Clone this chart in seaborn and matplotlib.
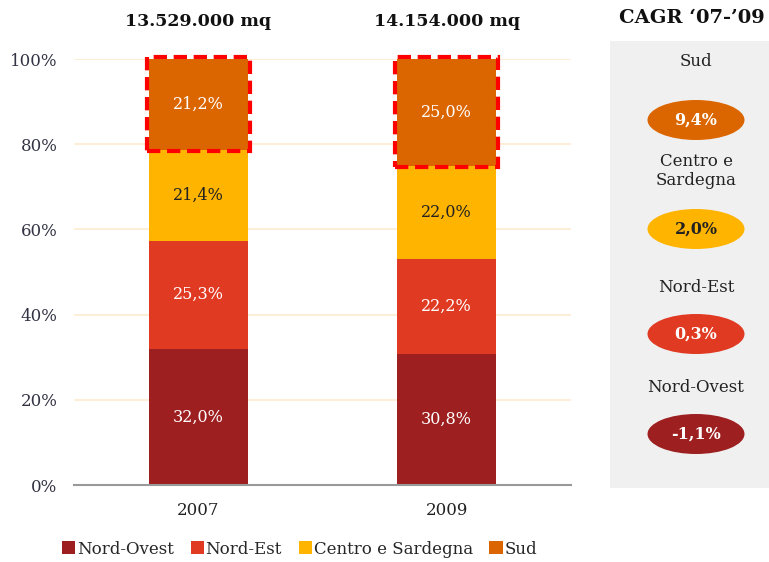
import matplotlib
matplotlib.use("Agg")
import matplotlib.pyplot as plt
import seaborn as sns
import pandas as pd
import numpy as np
from matplotlib.patches import Rectangle, Ellipse, Patch
import matplotlib.transforms as mtransforms

# ---- data ----
years = ["2007", "2009"]
regions = ["Nord-Ovest", "Nord-Est", "Centro e Sardegna", "Sud"]
nord_ovest = [32.0, 30.8]
nord_est = [25.3, 22.2]
centro_sardegna = [21.4, 22.0]
sud = [21.2, 25.0]
totals = ["13.529.000 mq", "14.154.000 mq"]
cagr_labels = ["Sud", "Centro e\nSardegna", "Nord-Est", "Nord-Ovest"]
cagr_values = [9.4, 2.0, 0.3, -1.1]
yticks = [0, 20, 40, 60, 80, 100]

colors = {"Nord-Ovest": "#9E1F20", "Nord-Est": "#E03A22",
          "Centro e Sardegna": "#FFB400", "Sud": "#DB6600"}
text_colors = {"Nord-Ovest": "white", "Nord-Est": "white",
               "Centro e Sardegna": "#222222", "Sud": "white"}

sns.set_theme(style="white")
plt.rcParams["font.family"] = ["DejaVu Serif"]

W, H = 769, 562
fig = plt.figure(figsize=(W / 100, H / 100), dpi=100)
ax = fig.add_axes([74 / W, 1 - 485 / H, (571 - 74) / W, (485 - 59) / H])

series = [nord_ovest, nord_est, centro_sardegna, sud]
bottom = np.zeros(len(years))
for reg, vals in zip(regions, series):
    df = pd.DataFrame({"year": years, "value": vals})
    sns.barplot(data=df, x="year", y="value", ax=ax, color=colors[reg],
                width=0.4, bottom=bottom, saturation=1, zorder=2, linewidth=0)
    for i, v in enumerate(vals):
        ax.text(i, bottom[i] + v / 2, f"{v:.1f}%".replace(".", ","),
                ha="center", va="center", fontsize=11.5,
                color=text_colors[reg], zorder=4)
    if reg == "Sud":
        for i, v in enumerate(vals):
            r = Rectangle((i - 0.208, bottom[i] - 0.3), 0.416, v + 0.8,
                          fill=False, edgecolor="#FF0000", linewidth=3.0,
                          linestyle=(0, (3.2, 1.6)), zorder=5, clip_on=False)
            ax.add_patch(r)
    bottom = bottom + np.array(vals)

ax.set_xlim(-0.5, 1.5)
ax.set_ylim(0, 100)
ax.set_yticks(yticks)
ax.set_yticklabels([f"{t}%" for t in yticks], fontsize=12, color="#333344")
ax.set_xticks([0, 1])
ax.set_xticklabels(years, fontsize=12, color="#222222")
ax.set_xlabel("")
ax.set_ylabel("")
ax.tick_params(axis="x", length=0, pad=12)
ax.tick_params(axis="y", length=0, pad=12)
ax.set_xticks([-0.5, 0.5, 1.5], minor=True)
ax.tick_params(axis="x", which="minor", length=5, color="#999999", width=1.2, direction="out")
ax.grid(axis="y", color="#FDEBD0", linewidth=1.2, zorder=0)
ax.grid(axis="x", visible=False)
for s in ["top", "right", "left"]:
    ax.spines[s].set_visible(False)
ax.spines["bottom"].set_color("#999999")
ax.spines["bottom"].set_linewidth(1.5)

trans = mtransforms.blended_transform_factory(ax.transData, fig.transFigure)
for i, t in enumerate(totals):
    ax.text(i, 1 - 22 / H, t, transform=trans, ha="center", va="center",
            fontsize=12.5, fontweight="bold", color="#111111")

handles = [Patch(facecolor=colors[r], edgecolor="none") for r in regions]
fig.legend(handles, regions, loc="center left", bbox_to_anchor=(62 / W, 1 - 549 / H),
           ncol=4, frameon=False, fontsize=12, handlelength=0.8, handleheight=0.8,
           handletextpad=0.1, columnspacing=1.0, borderaxespad=0, borderpad=0)

# ---- right CAGR panel ----
pax = fig.add_axes([610 / W, 1 - 488 / H, (769 - 610) / W, (488 - 41) / H])
pax.set_xlim(610, 769)
pax.set_ylim(488, 41)
pax.set_facecolor("#F0F0F0")
pax.set_xticks([])
pax.set_yticks([])
for s in pax.spines.values():
    s.set_visible(False)

fig.text(692 / W, 1 - 18 / H, "CAGR \u201807-\u201909", ha="center", va="center",
         fontsize=14, fontweight="bold", color="#111111")

label_y = [62, 171, 287, 388]
ell_y = [120, 229, 334, 434]
ell_colors = [colors["Sud"], colors["Centro e Sardegna"], colors["Nord-Est"], colors["Nord-Ovest"]]
ell_text = ["white", "#222222", "white", "white"]
for lab, val, ly, ey, c, tc in zip(cagr_labels, cagr_values, label_y, ell_y, ell_colors, ell_text):
    pax.text(696, ly, lab, ha="center", va="center",
             fontsize=12, color="#222222", linespacing=1.15)
    pax.add_patch(Ellipse((696, ey), 97, 40, facecolor=c, edgecolor="none"))
    pax.text(696, ey, f"{val:.1f}%".replace(".", ","), ha="center", va="center",
             fontsize=11.5, fontweight="bold", color=tc)

fig.savefig("out.png", dpi=100)
